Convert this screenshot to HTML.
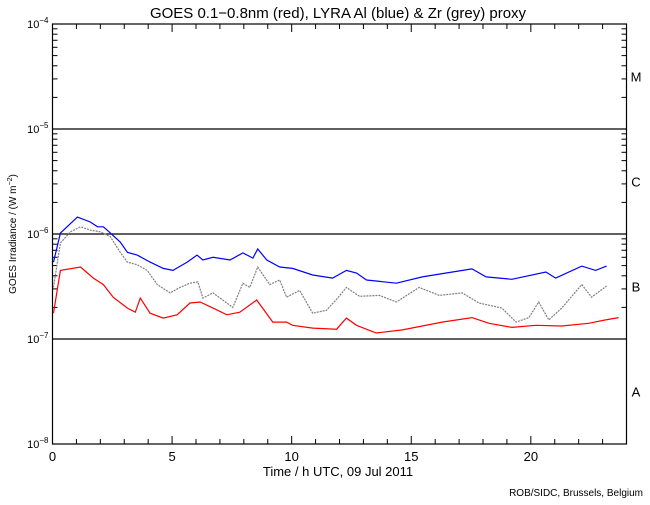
<!DOCTYPE html>
<html><head><meta charset="utf-8"><style>
body{margin:0;background:#fff;}
svg text{font-family:"Liberation Sans",sans-serif;fill:#000;}
</style></head><body>
<svg id="chart" width="650" height="500" xmlns="http://www.w3.org/2000/svg">
<rect width="650" height="500" fill="#fff"/>
<text x="338" y="18" font-size="15" text-anchor="middle">GOES 0.1−0.8nm (red), LYRA Al (blue) &amp; Zr (grey) proxy</text>
<text transform="translate(16,234) rotate(-90)" font-size="10" text-anchor="middle">GOES Irradiance / (W m<tspan dy="-4" font-size="7">−2</tspan><tspan dy="4">)</tspan></text>
<text x="338" y="476" font-size="13" text-anchor="middle">Time / h UTC, 09 Jul 2011</text>
<text x="643" y="496" font-size="10" text-anchor="end">ROB/SIDC, Brussels, Belgium</text>
<g id="axes"></g>
<g id="series"></g>
</svg>
<script>
const xTickLabels = [0, 5, 10, 15, 20];
const yDecades = [-4, -5, -6, -7, -8];
const flareClasses = ["M", "C", "B", "A"];
const blueHours = [0.04,0.33,1.04,1.58,1.88,2.13,2.42,2.83,3.13,3.54,4.08,4.63,5.04,5.63,6.04,6.29,6.71,7.42,7.96,8.38,8.58,8.96,9.5,10.04,10.88,11.71,12.29,12.71,13.13,14.38,15.46,16.46,17.54,18.13,19.21,20.63,21.04,22.13,22.71,23.17];
const blueValues = [5.4e-7,1.02e-6,1.45e-6,1.30e-6,1.17e-6,1.17e-6,1.02e-6,8.4e-7,6.7e-7,6.3e-7,5.4e-7,4.7e-7,4.5e-7,5.4e-7,6.3e-7,5.65e-7,6.0e-7,5.65e-7,6.6e-7,5.9e-7,7.2e-7,5.65e-7,4.85e-7,4.7e-7,4.07e-7,3.8e-7,4.5e-7,4.25e-7,3.65e-7,3.4e-7,3.9e-7,4.25e-7,4.65e-7,3.9e-7,3.7e-7,4.35e-7,3.8e-7,4.95e-7,4.5e-7,4.95e-7];
const greyHours = [0.04,0.33,0.75,1.17,1.58,2.0,2.42,2.83,3.13,3.54,3.96,4.38,4.92,5.33,5.75,6.08,6.29,6.71,7.54,7.96,8.25,8.58,9.08,9.5,9.79,10.33,10.88,11.46,11.92,12.29,12.83,13.67,14.38,15.33,16.17,17.13,17.83,18.79,19.38,19.92,20.33,20.75,21.29,22.13,22.54,23.17];
const greyValues = [3.1e-7,8.2e-7,1.05e-6,1.17e-6,1.09e-6,1.05e-6,9.4e-7,6.7e-7,5.4e-7,5.1e-7,4.5e-7,3.3e-7,2.75e-7,3.1e-7,3.4e-7,3.5e-7,2.45e-7,2.75e-7,2.0e-7,3.4e-7,3.1e-7,4.85e-7,3.3e-7,3.65e-7,2.5e-7,2.9e-7,1.76e-7,1.88e-7,2.45e-7,3.1e-7,2.55e-7,2.6e-7,2.25e-7,3.1e-7,2.6e-7,2.75e-7,2.2e-7,1.97e-7,1.45e-7,1.6e-7,2.25e-7,1.52e-7,1.97e-7,3.3e-7,2.5e-7,3.2e-7];
const redHours = [0.04,0.33,1.17,1.71,2.13,2.54,3.13,3.46,3.67,4.08,4.63,5.21,5.75,6.17,6.71,7.29,7.83,8.54,9.21,9.79,10.04,10.88,11.88,12.29,12.71,13.54,14.63,15.46,16.29,17.54,18.25,19.21,20.21,21.29,22.42,23.13,23.67];
const redValues = [1.76e-7,4.5e-7,4.85e-7,3.8e-7,3.3e-7,2.5e-7,1.97e-7,1.8e-7,2.45e-7,1.76e-7,1.58e-7,1.7e-7,2.2e-7,2.25e-7,1.97e-7,1.7e-7,1.8e-7,2.35e-7,1.45e-7,1.45e-7,1.35e-7,1.27e-7,1.24e-7,1.58e-7,1.35e-7,1.14e-7,1.22e-7,1.33e-7,1.45e-7,1.6e-7,1.41e-7,1.29e-7,1.35e-7,1.33e-7,1.41e-7,1.52e-7,1.6e-7];

const NS = "http://www.w3.org/2000/svg";
const X0 = 52.5, X1 = 626.5, YTOP = 24, DEC = 105;
function xScale(h){ return X0 + (X1 - X0) * h / 24; }
function yScale(v){ return YTOP + (-4 - Math.log10(v)) * DEC; }
function mk(tag, attrs, parent){ const e=document.createElementNS(NS,tag); for(const k in attrs) e.setAttribute(k,attrs[k]); parent.appendChild(e); return e; }
const axes = document.getElementById('axes');
const yBot = yScale(1e-8);

const frame = mk('rect',{x:X0,y:YTOP,width:X1-X0,height:yBot-YTOP,fill:'none',stroke:'#000','stroke-width':1.2},axes);



[-5,-6,-7].forEach(d=>{
  const y=yScale(Math.pow(10,d));
  const l=mk('line',{x1:X0,x2:X1,y1:y,y2:y,stroke:'#000','stroke-width':1.2},axes);
  
  
});
yDecades.forEach(d=>{
  for(let m=1;m<=9;m++){
    if(d===-8 && m>1) break;
    const y=yScale(m*Math.pow(10,d));
    const len = m===1?8:5;
    mk('line',{x1:X0,x2:X0+len,y1:y,y2:y,stroke:'#000'},axes);
    mk('line',{x1:X1,x2:X1-len,y1:y,y2:y,stroke:'#000'},axes);
  }
  const y=yScale(Math.pow(10,d));
  const t=mk('text',{x:X0-4,y:y+4,'font-size':11,'text-anchor':'end'},axes);
  
  
  t.innerHTML='10<tspan dy="-5" font-size="8">'+d.toString().replace('-','−')+'</tspan>';
});
for(let h=0;h<=24;h++){
  const x=xScale(h), len = h%5===0?8:5;
  mk('line',{x1:x,x2:x,y1:yBot,y2:yBot-len,stroke:'#000'},axes);
  mk('line',{x1:x,x2:x,y1:YTOP,y2:YTOP+len,stroke:'#000'},axes);
}
xTickLabels.forEach(h=>{
  const t=mk('text',{x:xScale(h),y:yBot+17,'font-size':13,'text-anchor':'middle'},axes);
  
  
  t.textContent=h;
});
flareClasses.forEach((c,i)=>{
  const y=yScale(Math.pow(10,-4-i-0.5));
  const t=mk('text',{x:636,y:y+5,'font-size':13,'text-anchor':'middle'},axes);
  
  
  t.textContent=c;
});
const series=document.getElementById('series');
function drawLine(hs,vs,color,name,dash){
  const pts=hs.map((h,i)=>xScale(h).toFixed(1)+','+yScale(vs[i]).toFixed(1)).join(' ');
  const p=mk('polyline',{points:pts,fill:'none',stroke:color,'stroke-width':1.2},series);
  if(dash) p.setAttribute('stroke-dasharray',dash);
  
  
}
drawLine(greyHours,greyValues,'#808080','zr-grey-series','2 1');
drawLine(blueHours,blueValues,'#0000ff','al-blue-series');
drawLine(redHours,redValues,'#ff0000','goes-red-series');
</script>
</body></html>
